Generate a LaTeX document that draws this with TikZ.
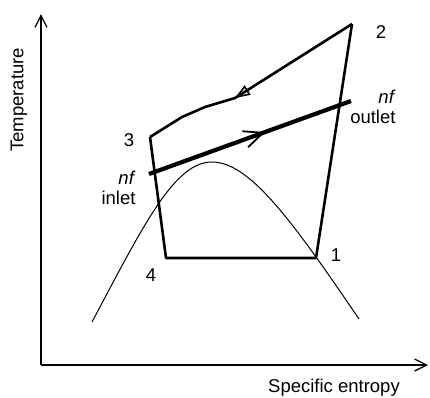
\documentclass[tikz,border=0pt]{standalone}
\usepackage{fontspec}
\setmainfont{Liberation Sans}
\usetikzlibrary{arrows.meta}

\begin{document}
\begin{tikzpicture}[x=1pt, y=-1pt, line width=1pt,
    every node/.style={font=\fontsize{18.5}{20}\selectfont, inner sep=0pt},
    axis/.style={line width=1.5pt, -{Straight Barb[length=12pt, width=12pt, line width=1.3pt]}},
    cycle/.style={line width=2.6pt, line join=round},
    fluid/.style={line width=4.2pt},
    dome/.style={line width=1pt}]
            \useasboundingbox (0,0) rectangle (430,397);

            % Axes of the T-s diagram
            \coordinate (O) at (41,365);
            \coordinate (Tmax) at (41,14);
            \coordinate (Smax) at (428,365);
            \draw[axis] (O) -- (Tmax);
            \draw[axis] (O) -- (Smax);
            \node[rotate=90] (tlabel) at (19,100) {Temperature};
            \node (slabel) at (334,388) {Specific entropy};

            % Saturation dome
            \coordinate (Crit) at (212,162);
            \draw[dome] (92,322) .. controls (145,222) and (175,162) .. (Crit)
                .. controls (250,162) and (293,222) .. (359,319);

            % The four states of the cycle
            \coordinate (P1) at (316,258);
            \coordinate (P2) at (352,24);
            \coordinate (P3) at (150,137);
            \coordinate (P4) at (166,258);

            % Heat rejection 2 -> 3 with its direction mark
            \coordinate (K) at (235,98);
            \draw[cycle] (P2) -- (K) -- (205,107) -- (182,117) -- (P3);
            \draw[line width=1.6pt, -{Triangle[open, length=15pt, width=11pt]}] (P2) -- (K);

            % Remaining legs of the cycle
            \draw[cycle] (P3) -- (P4) -- (P1) -- (P2);

            % Heated fluid stream
            \coordinate (nfin) at (149,174);
            \coordinate (nfout) at (351,101);
            \draw[fluid] (nfin) -- (nfout);
            \path (nfin) -- (nfout) coordinate[pos=0.575] (nfmid);
            \draw[line width=1.8pt, -{Straight Barb[length=19pt, width=17pt, line width=1.8pt]}] (nfin) -- (nfmid);

            % Labels
            \node (lab1) at (336,255) {1};
            \node (lab2) at (381,32) {2};
            \node (lab3) at (129,140) {3};
            \node (lab4) at (151,275) {4};
            \node[align=right, anchor=east] (labout) at (396,107) {\textit{nf}\\outlet};
            \node[align=right, anchor=east] (labin) at (136,188) {\textit{nf}\\inlet};

        \end{tikzpicture}
\end{document}
